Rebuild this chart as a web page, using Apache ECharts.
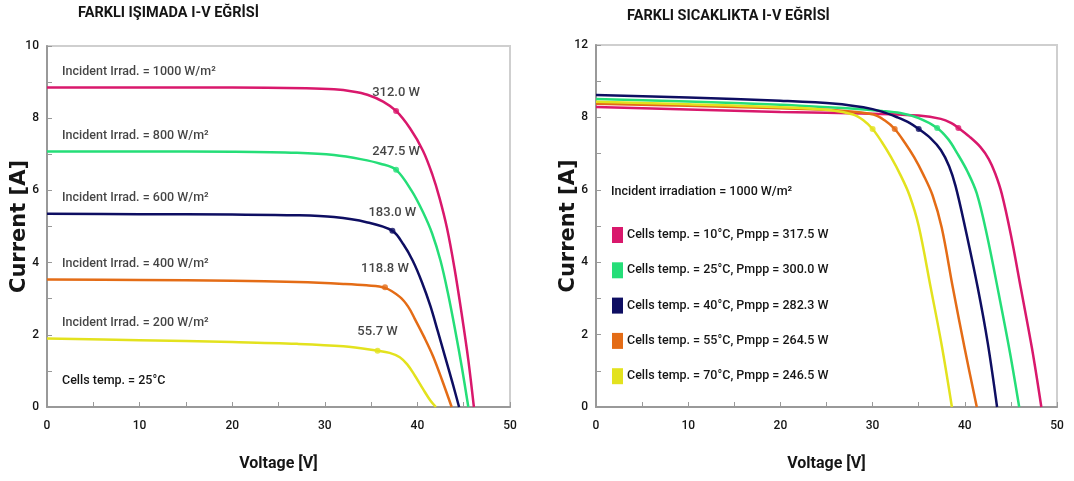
<!DOCTYPE html>
<html>
<head>
<meta charset="utf-8">
<script src="https://cdn.jsdelivr.net/npm/echarts@6/dist/echarts.min.js"></script>
<style>
html, body { margin: 0; padding: 0; background: #fff; }
#chart { width: 1074px; height: 481px; }
</style>
</head>
<body>
<div id="chart"></div>
<script>
// left chart: I-V curves at different irradiance (cells 25°C)
var irradLevels = ['1000', '800', '600', '400', '200'];
var irr1000 = [[0,8.85],[10,8.85],[20,8.85],[28,8.83],[31,8.8],[33,8.74],[34.6,8.65],[36.3,8.46],[37.7,8.2],[39.2,7.72],[40.6,7.1],[41.6,6.45],[42.4,5.78],[43.2,4.95],[44,3.85],[44.8,2.55],[45.5,1.3],[46.1,0]];
var irr800 = [[0,7.08],[10,7.08],[20,7.07],[27,7.04],[31,6.98],[34,6.86],[36,6.74],[37.7,6.57],[39.4,5.98],[40.6,5.4],[41.6,4.8],[42.5,4.05],[43.3,3.15],[44.1,2.1],[44.8,1.1],[45.5,0]];
var irr600 = [[0,5.35],[10,5.34],[20,5.33],[27,5.31],[31,5.26],[34.5,5.12],[37.3,4.88],[38.5,4.5],[39.5,4.05],[40.5,3.45],[41.4,2.8],[42.2,2.1],[43,1.38],[43.8,0.66],[44.5,0]];
var irr400 = [[0,3.53],[10,3.52],[20,3.5],[27,3.46],[32,3.41],[34.5,3.37],[36.5,3.3],[38.1,3.05],[39,2.78],[39.7,2.45],[40.8,1.9],[41.7,1.4],[42.7,0.72],[43.7,0]];
var irr200 = [[0,1.9],[10,1.85],[20,1.8],[27,1.75],[32,1.68],[35.7,1.56],[37,1.5],[38.1,1.38],[38.9,1.18],[39.7,0.88],[40.6,0.5],[41.4,0.18],[42,0]];
var irradCurves = [irr1000, irr800, irr600, irr400, irr200];
var irradMppV = [37.7, 37.7, 37.3, 36.5, 35.7];
var irradMppI = [8.2, 6.57, 4.88, 3.32, 1.56];
var irradMppP = ['312.0 W', '247.5 W', '183.0 W', '118.8 W', '55.7 W'];

// right chart: I-V curves at different cell temperature (1000 W/m2)
var tempLevels = ['10', '25', '40', '55', '70'];
var tempPmpp = ['317.5', '300.0', '282.3', '264.5', '246.5'];
var t10 = [[0,8.29],[10,8.22],[20,8.15],[30,8.1],[35,8.05],[37.4,7.96],[38.5,7.85],[39.3,7.71],[40.5,7.47],[41.7,7.18],[42.6,6.85],[43.3,6.45],[44,5.9],[45,4.75],[46.1,3.25],[47.3,1.6],[48.3,0]];
var t25 = [[0,8.51],[10,8.44],[20,8.35],[28,8.24],[31,8.18],[33,8.12],[35,7.98],[37,7.71],[38.2,7.4],[39.2,7.0],[40.3,6.5],[41.3,5.9],[42.4,4.75],[43.7,3.1],[44.9,1.5],[45.9,0]];
var t40 = [[0,8.62],[10,8.55],[20,8.46],[26,8.38],[29,8.28],[31,8.16],[32.7,8.0],[34,7.85],[35,7.68],[36.3,7.42],[37.4,7.1],[38.3,6.65],[39,6.1],[40,5.0],[41.4,3.3],[42.5,1.75],[43.5,0]];
var t55 = [[0,8.38],[10,8.32],[20,8.25],[27,8.18],[30.1,8.08],[31.3,7.92],[32.4,7.68],[33.5,7.3],[34.5,6.9],[35.5,6.42],[36.5,5.85],[37.5,4.95],[38.7,3.3],[40,1.6],[41.3,0]];
var t70 = [[0,8.43],[10,8.36],[20,8.28],[25.5,8.2],[27.9,8.08],[29,7.92],[30,7.68],[31,7.32],[32,6.9],[33,6.42],[34,5.85],[35,5.0],[36.3,3.3],[37.5,1.7],[38.6,0]];
var tempCurves = [t10, t25, t40, t55, t70];
var tempMppV = [39.3, 37.0, 35.0, 32.4, 30.0];
var tempMppI = [7.71, 7.71, 7.68, 7.68, 7.68];

var xTickLabels = ['0', '10', '20', '30', '40', '50'];
var leftYTickLabels = ['0', '2', '4', '6', '8', '10'];
var rightYTickLabels = ['0', '2', '4', '6', '8', '12'];

var colors = ['#d9186c', '#25de78', '#0e0e62', '#e46c16', '#e3e21e'];
var font = "Roboto, 'Liberation Sans', sans-serif";
var ink = '#151515';

var chart = echarts.init(document.getElementById('chart'));

function makeX(idx) {
    return {
        type: 'value', gridIndex: idx, min: 0, max: 50, interval: 10,
        name: 'Voltage [V]', nameLocation: 'middle', nameGap: 49,
        nameTextStyle: { fontFamily: font, fontWeight: 'bold', fontSize: 16, color: ink },
        axisLine: { show: true, lineStyle: { color: '#999', width: 2 } },
        axisTick: { show: true, inside: true, length: 5, lineStyle: { color: '#999' } },
        minorTick: { show: true, splitNumber: 2, length: 5, lineStyle: { color: '#999' } },
        splitLine: { show: false },
        axisLabel: {
            margin: 13, fontFamily: font, fontWeight: 500, fontSize: 12, color: ink,
            formatter: function (v) { return xTickLabels[v / 10]; }
        }
    };
}

function makeY(idx, labels) {
    return {
        type: 'value', gridIndex: idx, min: 0, max: 10, interval: 2,
        name: 'Current [A]', nameLocation: 'middle', nameGap: 17, nameMoveOverlap: false,
        nameTextStyle: { fontFamily: 'DejaVu Sans', fontWeight: 'bold', fontSize: 21, color: ink },
        axisLine: { show: true, lineStyle: { color: '#999', width: 2 } },
        axisTick: { show: true, inside: true, length: 5, lineStyle: { color: '#999' } },
        minorTick: { show: true, splitNumber: 2, length: 5, lineStyle: { color: '#999' } },
        splitLine: { show: false },
        axisLabel: {
            margin: 8, fontFamily: font, fontWeight: 500, fontSize: 12, color: ink,
            formatter: function (v) { return labels[v / 2]; }
        }
    };
}

var lineBase = { type: 'line', showSymbol: false, smooth: 0.35, z: 2 };

var series = [];
irradCurves.forEach(function (pts, i) {
    series.push(Object.assign({}, lineBase, {
        name: irradLevels[i] + ' W/m²', xAxisIndex: 0, yAxisIndex: 0, data: pts,
        lineStyle: { width: 2.5, color: colors[i] }, itemStyle: { color: colors[i] }
    }));
});
// irradiance captions, hung on the start of each curve
series.push({
    name: 'irradText', type: 'scatter', xAxisIndex: 0, yAxisIndex: 0, symbolSize: 0, z: 5,
    data: irradCurves.map(function (c) { return c[0]; }),
    label: {
        show: true, position: [15, -22], fontFamily: font, fontWeight: 500, fontSize: 12.5, color: ink,
        formatter: function (p) { return 'Incident Irrad. = ' + irradLevels[p.dataIndex] + ' W/m²'; }
    }
});
series.push({
    name: 'irradMpp', type: 'scatter', xAxisIndex: 0, yAxisIndex: 0, symbol: 'circle', symbolSize: 6, z: 4,
    data: irradMppV.map(function (v, i) { return [v, irradMppI[i]]; }),
    itemStyle: { color: function (p) { return colors[p.dataIndex]; } },
    label: {
        show: true, position: 'top', distance: 9, fontFamily: font, fontWeight: 500, fontSize: 13, color: ink,
        formatter: function (p) { return irradMppP[p.dataIndex]; }
    }
});

var tempNames = tempLevels.map(function (t, i) {
    return 'Cells temp. = ' + t + '°C, Pmpp = ' + tempPmpp[i] + ' W';
});
tempCurves.forEach(function (pts, i) {
    series.push(Object.assign({}, lineBase, {
        name: tempNames[i], xAxisIndex: 1, yAxisIndex: 1, data: pts,
        lineStyle: { width: 2.5, color: colors[i] }, itemStyle: { color: colors[i] }
    }));
});
series.push({
    name: 'tempMpp', type: 'scatter', xAxisIndex: 1, yAxisIndex: 1, symbol: 'circle', symbolSize: 6, z: 4,
    data: tempMppV.map(function (v, i) { return [v, tempMppI[i]]; }),
    itemStyle: { color: function (p) { return colors[p.dataIndex]; } }
});

var option = {
    animation: false,
    backgroundColor: '#fff',
    title: [
        { text: 'FARKLI IŞIMADA I-V EĞRİSİ', left: 78, top: 6, padding: 0,
          textStyle: { fontFamily: font, fontWeight: 'bold', fontSize: 14.5, color: ink } },
        { text: 'FARKLI SICAKLIKTA I-V EĞRİSİ', left: 627, top: 9, padding: 0,
          textStyle: { fontFamily: font, fontWeight: 'bold', fontSize: 14.5, color: ink } }
    ],
    grid: [
        { left: 47, top: 46, right: 564, bottom: 74, show: true, borderColor: '#cfcfcf', borderWidth: 2 },
        { left: 596, top: 45, right: 17, bottom: 74, show: true, borderColor: '#cfcfcf', borderWidth: 2 }
    ],
    xAxis: [makeX(0), makeX(1)],
    yAxis: [makeY(0, leftYTickLabels), makeY(1, rightYTickLabels)],
    legend: {
        data: tempNames, orient: 'vertical', left: 612, top: 227, padding: 0,
        icon: 'rect', itemWidth: 11, itemHeight: 16, itemGap: 19.3,
        textStyle: { fontFamily: font, fontWeight: 500, fontSize: 12.5, color: ink, padding: [0, 0, 0, -1] }
    },
    graphic: [
        { type: 'text', left: 62, top: 374,
          style: { text: 'Cells temp. = 25°C', font: '500 12.5px ' + font, fill: ink } },
        { type: 'text', left: 611, top: 185,
          style: { text: 'Incident irradiation = 1000 W/m²', font: '500 12.5px ' + font, fill: ink } }
    ],
    series: series
};
chart.setOption(option);
</script>
</body>
</html>
